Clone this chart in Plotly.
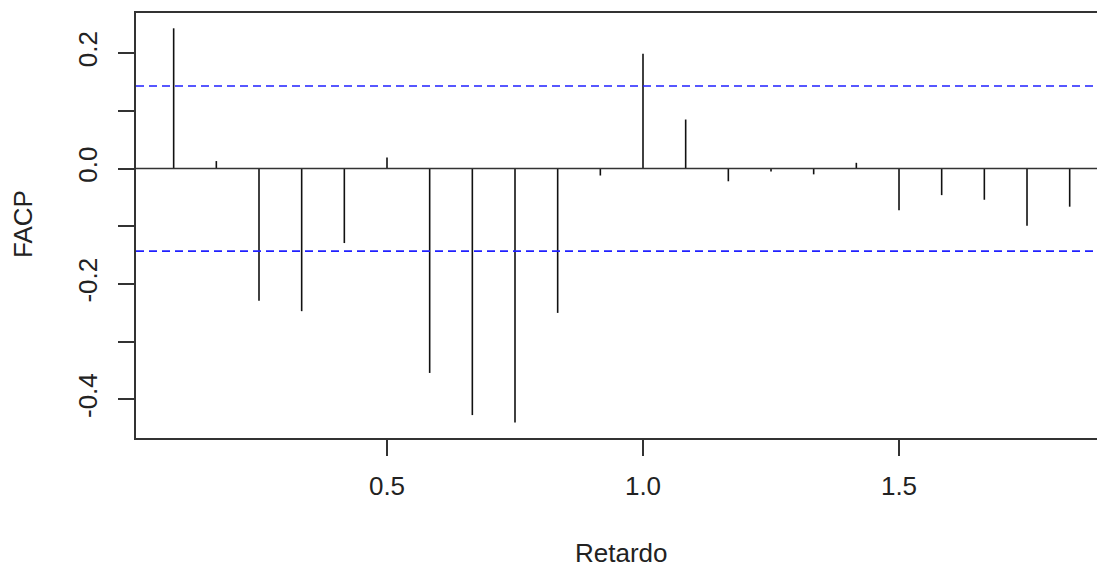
import plotly.graph_objects as go

# Lags (in years, frequency 12) and partial autocorrelation values
lags = [k / 12 for k in range(1, 23)]
pacf_values = [0.243, 0.013, -0.229, -0.247, -0.129, 0.019, -0.354, -0.427,
               -0.440, -0.250, -0.012, 0.199, 0.085, -0.022, -0.005, -0.010,
               0.010, -0.072, -0.046, -0.054, -0.099, -0.066]
ci_limit = 0.143

y_tick_vals = [-0.4, -0.3, -0.2, -0.1, 0.0, 0.1, 0.2]
y_tick_text = ["-0.4", "", "-0.2", "", "0.0", "", "0.2"]
x_tick_vals = [0.5, 1.0, 1.5]
x_tick_text = ["0.5", "1.0", "1.5"]

xs, ys = [], []
for lag, v in zip(lags, pacf_values):
    xs += [lag, lag, None]
    ys += [0, v, None]

FONT = "Liberation Sans, Arial, sans-serif"
AX = "#333333"
TXT = "#222222"
FS = 26

fig = go.Figure()
fig.add_trace(go.Scatter(x=xs, y=ys, mode="lines",
                         line=dict(color="#111111", width=1.6),
                         hoverinfo="skip", showlegend=False))

fig.add_shape(type="line", xref="paper", x0=0, x1=1, yref="y", y0=0, y1=0,
              line=dict(color=AX, width=1.5))
for c in (ci_limit, -ci_limit):
    fig.add_shape(type="line", xref="paper", x0=0, x1=1, yref="y", y0=c, y1=c,
                  line=dict(color="#2020ff", width=1.6, dash="8px,5px"))

fig.update_layout(
    width=1097, height=567,
    margin=dict(l=136, r=0, t=13, b=129),
    paper_bgcolor="white", plot_bgcolor="white",
    font=dict(family=FONT, size=FS, color=TXT),
    showlegend=False,
)
fig.update_xaxes(
    range=[0.00977, 1.8867],
    tickmode="array", tickvals=x_tick_vals, ticktext=x_tick_text,
    ticks="outside", ticklen=16, tickwidth=1.5, tickcolor=AX,
    showline=True, linecolor=AX, linewidth=1.5, mirror=True,
    showgrid=False, zeroline=False,
    ticklabelstandoff=8,
    tickfont=dict(family=FONT, size=FS, color=TXT),
)
fig.update_yaxes(
    range=[-0.4667, 0.2695],
    tickmode="array", tickvals=y_tick_vals, ticktext=y_tick_text,
    tickangle=-90,
    ticks="outside", ticklen=16, tickwidth=1.5, tickcolor=AX,
    showline=True, linecolor=AX, linewidth=1.5, mirror=False,
    showgrid=False, zeroline=False,
    ticklabelstandoff=11,
    tickfont=dict(family=FONT, size=FS, color=TXT),
)

fig.add_annotation(text="Retardo", xref="paper", yref="paper",
                   x=0.5052, y=-0.2706, xanchor="center", yanchor="middle",
                   showarrow=False, font=dict(family=FONT, size=FS, color=TXT))
fig.add_annotation(text="FACP", xref="paper", yref="paper",
                   x=-0.1176, y=0.5035, xanchor="center", yanchor="middle",
                   textangle=-90, showarrow=False,
                   font=dict(family=FONT, size=FS, color=TXT))

fig.write_html(
    "out.html",
    config={"displayModeBar": False},
    post_script="document.body.style.margin='0';document.body.style.overflow='hidden';",
)
